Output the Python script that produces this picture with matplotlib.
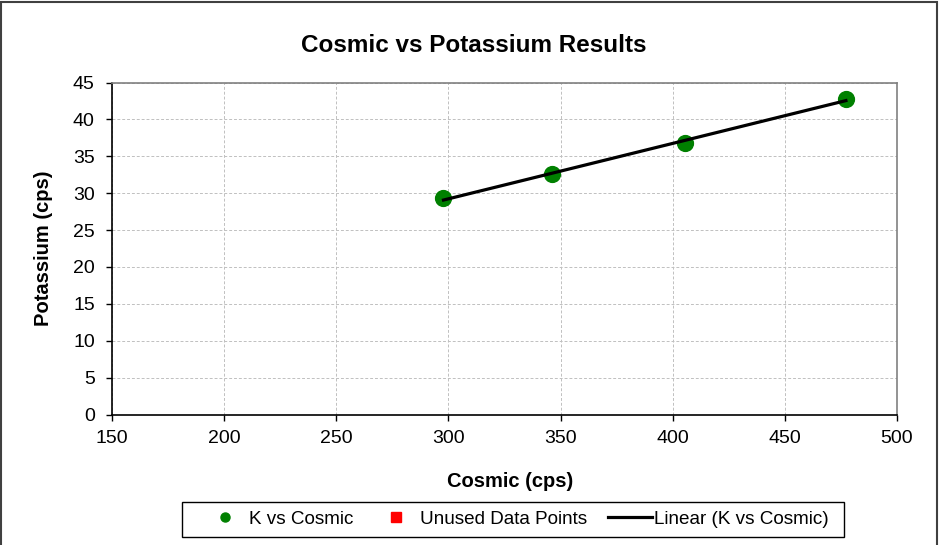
import numpy as np
import matplotlib
matplotlib.use("Agg")
import matplotlib.pyplot as plt
from matplotlib.lines import Line2D
from matplotlib.patches import Rectangle

plt.rcParams['font.family'] = ['Liberation Sans', 'DejaVu Sans']

cosmic = [297.8, 346.3, 405.6, 477.2]
potassium = [29.3, 32.6, 36.8, 42.8]
x_ticks = [150, 200, 250, 300, 350, 400, 450, 500]
y_ticks = [0, 5, 10, 15, 20, 25, 30, 35, 40, 45]

fig = plt.figure(figsize=(9.4, 5.45), dpi=100)
ax = fig.add_axes([0.1191, 0.2394, 0.8352, 0.6092])

ax.scatter(cosmic, potassium, s=130, color='#008000', zorder=3, label='K vs Cosmic')
ax.scatter([], [], marker='s', color='#ff0000', label='Unused Data Points')
coef = np.polyfit(cosmic, potassium, 1)
xs = np.array([min(cosmic), max(cosmic)])
ax.plot(xs, np.polyval(coef, xs), color='black', lw=2.3, zorder=4, label='Linear (K vs Cosmic)')

ax.set_xlim(150, 500)
ax.set_ylim(0, 45)
ax.set_xticks(x_ticks)
ax.set_yticks(y_ticks)
ax.grid(True, color='#c0c0c0', linestyle=(0, (3, 2)), linewidth=0.7)
ax.set_axisbelow(True)
ax.tick_params(direction='out', length=4.3, width=1, labelsize=14, colors='black')
ax.tick_params(axis='y', pad=8)
ax.tick_params(axis='x', pad=7)
for s in ['left', 'bottom']:
    ax.spines[s].set_color('black')
    ax.spines[s].set_linewidth(1.2)
for s in ['top', 'right']:
    ax.spines[s].set_color('#808080')
    ax.spines[s].set_linewidth(1.2)

ax.set_xlabel('Cosmic (cps)', fontsize=14.5, fontweight='bold')
ax.set_ylabel('Potassium (cps)', fontsize=14.5, fontweight='bold')
ax.xaxis.label.set_va('center')
ax.yaxis.label.set_va('center')
ax.xaxis.set_label_coords(0.507, -0.2003)
ax.yaxis.set_label_coords(-0.0878, 0.5)
fig.text(0.504, 0.917, 'Cosmic vs Potassium Results', ha='center', va='center',
         fontsize=17.5, fontweight='bold')

handles = [
    Line2D([], [], marker='o', color='#008000', linestyle='none', markersize=6.5),
    Line2D([], [], marker='s', color='#ff0000', linestyle='none', markersize=6.5),
    Line2D([], [], color='black', lw=2.3),
]
labels = ['K vs Cosmic', 'Unused Data Points', 'Linear (K vs Cosmic)']
leg = fig.legend(handles, labels, ncol=3, loc='center', bbox_to_anchor=(515.5 / 940, 0.0468),
                 frameon=False, fontsize=13.6,
                 handlelength=2.33, columnspacing=1.1, handletextpad=0.1,
                 borderpad=0.3)

fig.patches.append(Rectangle((182 / 940, 8 / 545), 662 / 940, 35 / 545, transform=fig.transFigure,
                             fill=False, edgecolor='black', linewidth=1.0))
fig.patches.append(Rectangle((0.0015, -0.01), 0.9955, 1.0065, transform=fig.transFigure,
                             fill=False, edgecolor='#404040', linewidth=1.5))

fig.savefig('out.png', dpi=100)
